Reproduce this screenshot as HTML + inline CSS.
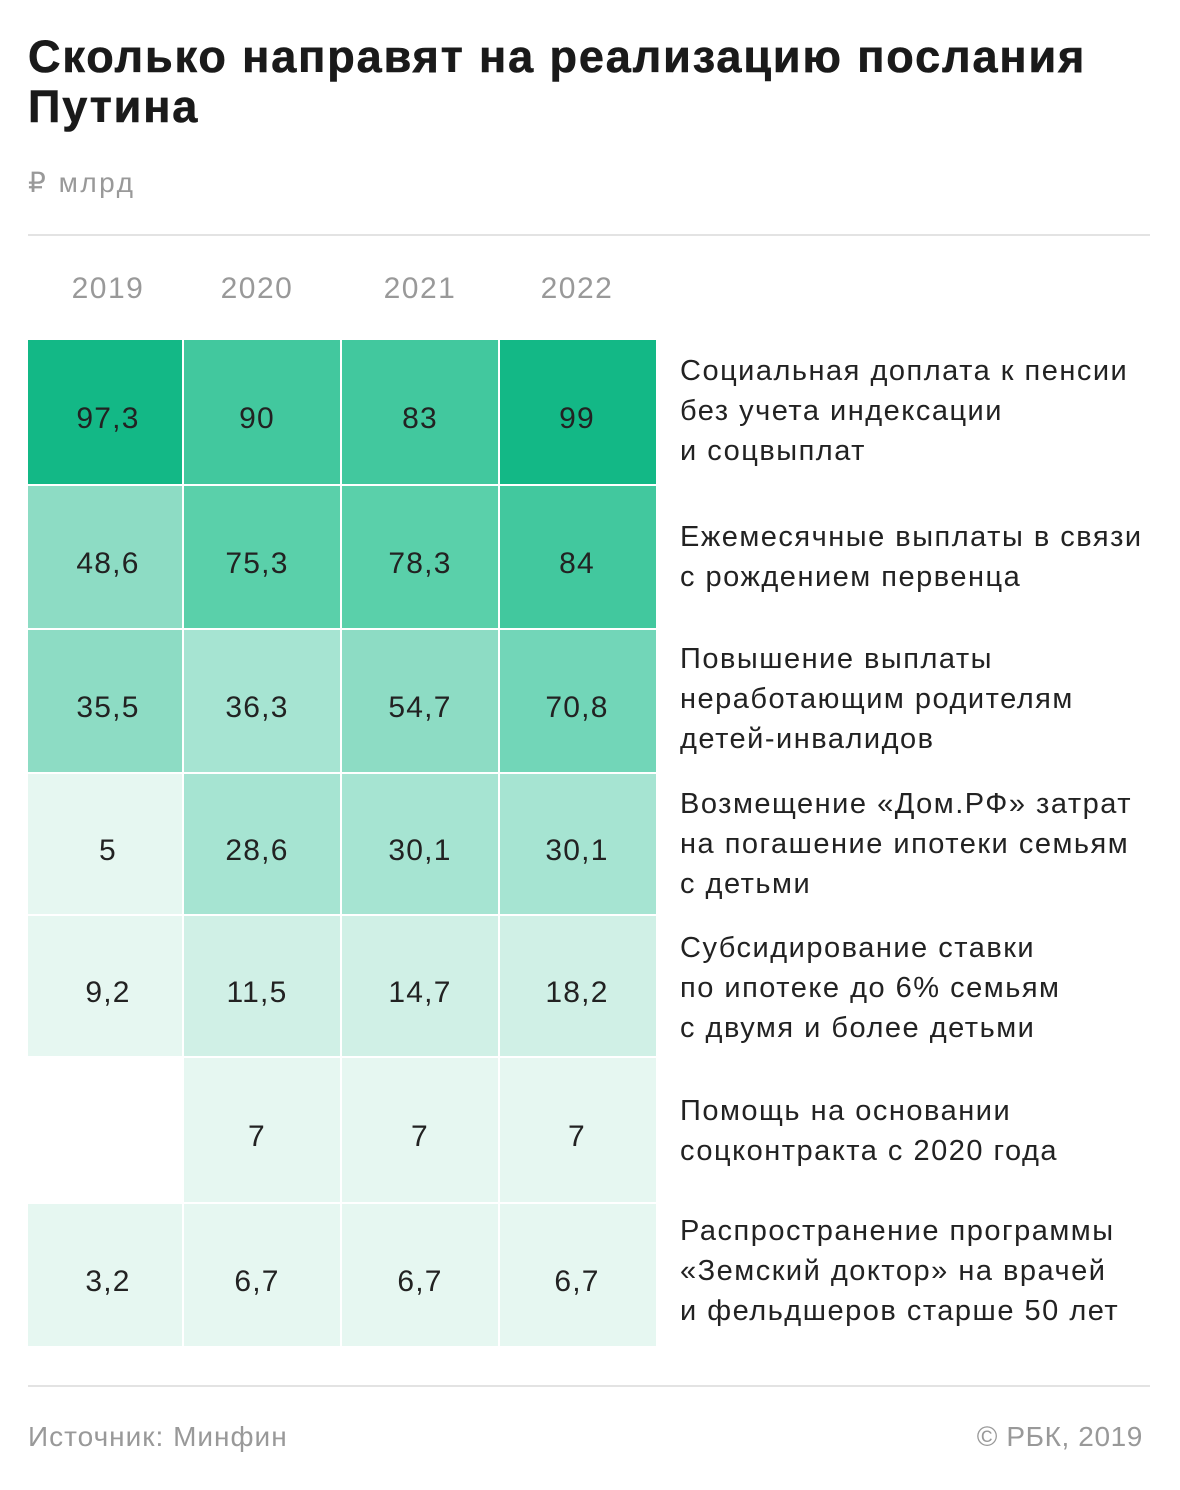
<!DOCTYPE html>
<html><head><meta charset="utf-8"><style>
body{margin:0;width:1180px;height:1490px;background:#fff;font-family:"Liberation Sans",sans-serif;position:relative;overflow:hidden}
.a{position:absolute}
h1{position:absolute;left:28px;top:32px;margin:0;font-size:45px;line-height:50px;font-weight:bold;color:#1a1a1a;letter-spacing:1.9px;-webkit-text-stroke:0.6px #1a1a1a}
.c{position:absolute;display:flex;align-items:center;justify-content:center;font-size:30px;color:#222;letter-spacing:1.2px;padding-top:14px;box-sizing:border-box}
.y{position:absolute;top:272px;font-size:30px;color:#999;width:154px;text-align:center;letter-spacing:1.5px}
.l{position:absolute;left:680px;font-size:29px;line-height:40px;color:#222;letter-spacing:1.5px;white-space:nowrap}
.hr{position:absolute;left:28px;width:1122px;height:2px;background:#e3e3e3}
</style></head><body>
<h1>Сколько направят на реализацию послания<br>Путина</h1>
<div class="a" style="left:28px;top:166px;font-size:28px;color:#999;letter-spacing:2.5px">₽ млрд</div>
<div class="hr" style="top:234px"></div>
<div class="y" style="left:31px">2019</div>
<div class="y" style="left:180px">2020</div>
<div class="y" style="left:343px">2021</div>
<div class="y" style="left:500px">2022</div>
<div id="g"></div>
<div class="l" style="top:351px">Социальная доплата к пенсии<br>без учета индексации<br>и соцвыплат</div>
<div class="l" style="top:517px">Ежемесячные выплаты в связи<br>с рождением первенца</div>
<div class="l" style="top:639px">Повышение выплаты<br>неработающим родителям<br>детей-инвалидов</div>
<div class="l" style="top:784px">Возмещение «Дом.РФ» затрат<br>на погашение ипотеки семьям<br>с детьми</div>
<div class="l" style="top:928px">Субсидирование ставки<br>по ипотеке до 6% семьям<br>с двумя и более детьми</div>
<div class="l" style="top:1091px">Помощь на основании<br>соцконтракта с 2020 года</div>
<div class="l" style="top:1211px">Распространение программы<br>«Земский доктор» на врачей<br>и фельдшеров старше 50 лет</div>
<div class="hr" style="top:1385px"></div>
<div class="a" style="left:28px;top:1421px;font-size:28px;color:#999;letter-spacing:1px">Источник: Минфин</div>
<div class="a" style="right:37px;top:1421px;font-size:28px;color:#999;letter-spacing:0.6px">© РБК, 2019</div>
<script>
var xs=[[28,154],[184,156],[342,156],[500,156]];
var tx=[108,257,420,577];
var ys=[[340,144],[486,142],[630,142],[774,140],[916,140],[1058,144],[1204,142]];
var D="#13b886",M="#42c89e",L="#5ad0aa",P="#8ddcc4",Q="#a6e4d2",R="#d0f0e6",S="#e6f7f1";
var d=[[["97,3",D],["90",M],["83",M],["99",D]],
[["48,6",P],["75,3",L],["78,3",L],["84",M]],
[["35,5",P],["36,3",Q],["54,7",P],["70,8",'#72d6b8']],
[["5",S],["28,6",Q],["30,1",Q],["30,1",Q]],
[["9,2",S],["11,5",R],["14,7",R],["18,2",R]],
[null,["7",S],["7",S],["7",S]],
[["3,2",S],["6,7",S],["6,7",S],["6,7",S]]];
var h="";
for(var r=0;r<7;r++)for(var c=0;c<4;c++){var v=d[r][c];if(!v)continue;
h+='<div class="c" style="left:'+xs[c][0]+'px;top:'+ys[r][0]+'px;width:'+xs[c][1]+'px;height:'+ys[r][1]+'px;background:'+v[1]+'"><span style="position:absolute;left:'+(tx[c]-xs[c][0]-100)+'px;width:200px;text-align:center">'+v[0]+'</span></div>';}
document.getElementById('g').innerHTML=h;
</script>
</body></html>
